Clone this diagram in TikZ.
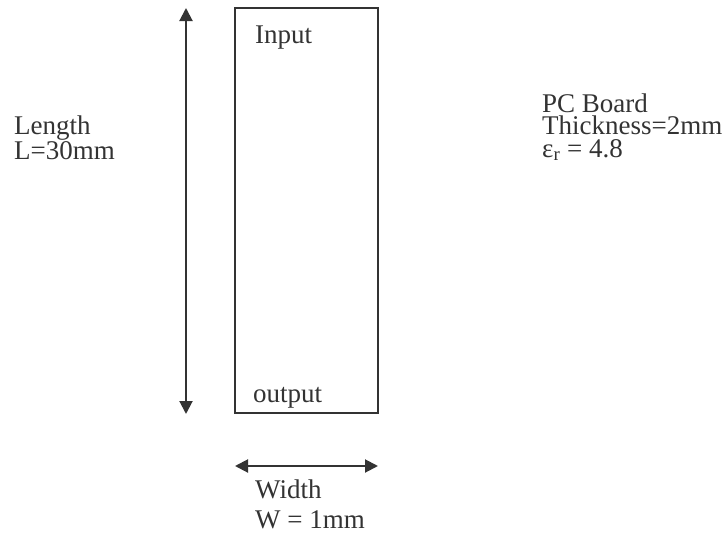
\documentclass[tikz,border=0pt]{standalone}
\usepackage{fontspec}
\setmainfont{Liberation Serif}
\usetikzlibrary{arrows.meta}

\definecolor{ink}{RGB}{51,51,51}

\begin{document}
\begin{tikzpicture}[x=1pt,y=1pt,yscale=-1,xscale=1,
    every node/.style={text=ink,font=\fontsize{27}{22.5}\selectfont},
    label text/.style={anchor=base west,inner sep=0pt,align=left},
    dim arrow/.style={draw=ink,line width=2pt,{Triangle[length=13pt,width=13pt]}-{Triangle[length=13pt,width=13pt]}}]
        \useasboundingbox (0,0) rectangle (724,536);

        %Shape: Rectangle [id:strip]
        \draw [ink,line width=2pt] (235,8) rectangle (378,413) ;

        % length arrow
        \coordinate (lenTop) at (186,8) ;
        \coordinate (lenBot) at (186,414) ;
        \draw [dim arrow] (lenTop) -- (lenBot) ;
        % width arrow
        \coordinate (widL) at (235,466) ;
        \coordinate (widR) at (378,466) ;
        \draw [dim arrow] (widL) -- (widR) ;

        % Text Node
        \node (input) [label text] at (255,43) {Input};
        % Text Node
        \node (output) [label text] at (253,402) {output};
        % Text Node
        \node (length) [label text] at (14,159) {Length\\L=30mm};
        % Text Node
        \node (width) [label text] at (255,528) {Width\\[7pt]W = 1mm};
        % Text Node
        \node (board) [label text] at (542,157) {PC Board\\Thickness=2mm\\ε\textsubscript{r} = 4.8};

    \end{tikzpicture}
\end{document}
